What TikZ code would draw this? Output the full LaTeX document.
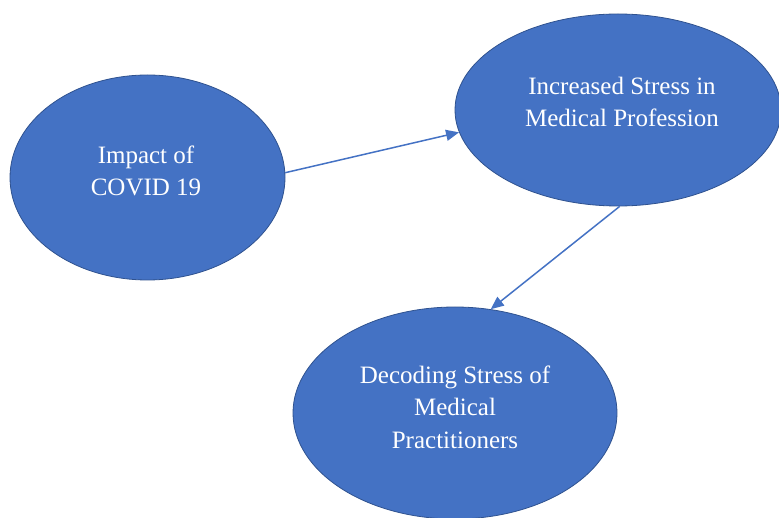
\documentclass[tikz,border=0pt]{standalone}
\usepackage{fontspec}
\setmainfont{Liberation Serif}
\usetikzlibrary{shapes.geometric,arrows.meta}
\definecolor{fillblue}{HTML}{4472C4}
\definecolor{edgeblue}{HTML}{2F528F}
\begin{document}
\begin{tikzpicture}[x=1pt,y=-1pt,
  bubble/.style={ellipse, fill=fillblue, draw=edgeblue, line width=0.8pt, inner sep=0pt},
  txt/.style={text=white, align=center, font=\fontsize{25}{32.5}\selectfont, inner sep=0pt},
  link/.style={draw=fillblue, line width=1.5pt, -{Triangle[length=13pt,width=11pt]}}]
\clip (0,0) rectangle (779,518);
\useasboundingbox (0,0) rectangle (779,518);
\node[bubble, minimum width=275pt, minimum height=205pt] (a) at (147.5,177.5) {};
\node[bubble, minimum width=326pt, minimum height=192pt] (b) at (618,110) {};
\node[bubble, minimum width=324pt, minimum height=212pt] (c) at (455,413) {};
\node[txt] (ta) at (146,171) {Impact of\\COVID 19};
\node[txt] (tb) at (622,102) {Increased Stress in\\Medical Profession};
\node[txt] (tc) at (455,407) {Decoding Stress of\\Medical\\Practitioners};
\draw[link] (a.2.3) -- (b.188);
\draw[link] (b.-89.5) -- (c.71);
\end{tikzpicture}
\end{document}
